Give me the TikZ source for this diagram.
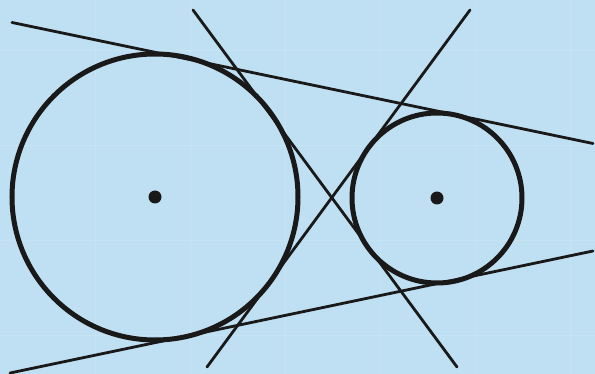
\documentclass[tikz,border=0pt]{standalone}
\begin{document}
\begin{tikzpicture}[x=1pt,y=-1pt,
  circ/.style={line width=5pt,draw=black!90},
  tang/.style={line width=2.8pt,draw=black!90,line cap=round},
  ctr/.style={circle,fill=black!90,inner sep=0pt,minimum size=13pt}]
\fill[fill={rgb,255:red,191;green,224;blue,242}] (0,0) rectangle (595,374);
\useasboundingbox (0,0) rectangle (595,374);
\foreach \x in {95,190,285,380,475,570} \draw[white,opacity=0.12,line width=0.8pt] (\x,0) -- (\x,374);
\foreach \y in {50,145,240,335} \draw[white,opacity=0.12,line width=0.8pt] (0,\y) -- (595,\y);
\coordinate (c1) at (155,197);
\coordinate (c2) at (437,198);
\draw[circ] (c1) circle[radius=143];
\draw[circ] (c2) circle[radius=85];
\node[ctr] (d1) at (c1) {};
\node[ctr] (d2) at (c2) {};
\coordinate (t1a) at (12,22.5);
\coordinate (t1b) at (593,143.5);
\coordinate (t2a) at (10,373);
\coordinate (t2b) at (593,251);
\coordinate (i1a) at (193,10);
\coordinate (i1b) at (457,367);
\coordinate (i2a) at (470,10);
\coordinate (i2b) at (207,367);
\draw[tang] (t1a) -- (t1b);
\draw[tang] (t2a) -- (t2b);
\draw[tang] (i1a) -- (i1b);
\draw[tang] (i2a) -- (i2b);
\end{tikzpicture}
\end{document}
